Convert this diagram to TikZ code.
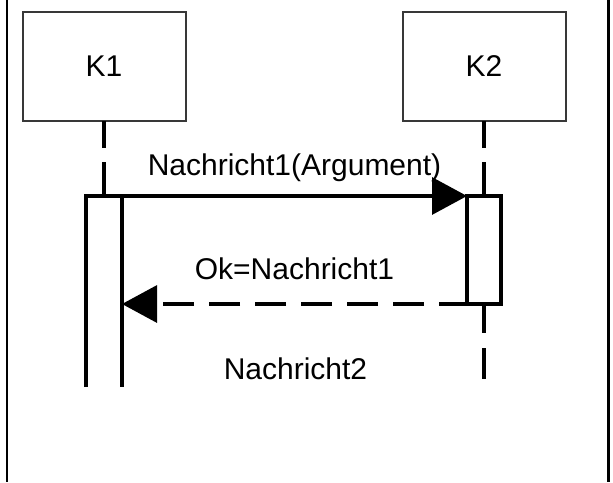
\documentclass[tikz,border=0pt]{standalone}
\usepackage{fontspec}
\setmainfont{Liberation Sans}
\usetikzlibrary{arrows.meta}
\begin{document}
\begin{tikzpicture}[x=1pt,y=-1pt,
  every node/.style={font=\fontsize{30pt}{36pt}\selectfont},
  classbox/.style={draw=black!78, line width=2pt, minimum width=163pt,
    minimum height=109pt, inner sep=0pt, outer sep=0pt},
  actslot/.style={inner sep=0pt, outer sep=0pt},
  actbox/.style={draw, line width=3.2pt, inner sep=0pt, outer sep=0pt},
  lifeline/.style={line width=3.2pt, dash pattern=on 33pt off 14pt},
  msg/.style={line width=3.2pt, -{Triangle[length=35pt,width=37pt]}},
  reply/.style={msg, dash pattern=on 31pt off 15pt, dash phase=3pt},
  frameline/.style={line width=2.2pt}
]
\useasboundingbox (0,0) rectangle (613,482);

% side rules of the frame
\draw[frameline] (6.7,0) -- (6.7,482);
\draw[frameline] (608.5,0) -- (608.5,482);

% participants
\node[classbox] (k1) at (104,66.5) {K1};
\node[classbox] (k2) at (484,66.5) {K2};

% activation bars
\node[actslot, minimum width=36pt, minimum height=191pt] (act1) at (104,291.5) {};
\draw[line width=3.2pt] (act1.south west) -- (act1.north west) -- (act1.north east) -- (act1.south east);
\node[actbox, minimum width=34pt, minimum height=108pt] (act2) at (484,250) {};

% lifelines
\draw[lifeline, dash phase=6pt] (k1.south) -- (act1.north);
\draw[lifeline, dash phase=6pt] (k2.south) -- (act2.north);
\coordinate (k2end) at (484,379);
\draw[lifeline, dash pattern=on 31pt off 15pt, dash phase=2pt] (act2.south) -- (k2end);

% messages
\draw[msg] (act1.north east) -- node[anchor=base, yshift=21pt] (m1) {Nachricht1(Argument)} (act2.north west);
\draw[reply] (act2.south west) -- node[anchor=base, yshift=25pt] (r1) {Ok=Nachricht1} (act1.east |- act2.south west);
\node[anchor=base] (m2) at (295.5,379) {Nachricht2};
\end{tikzpicture}
\end{document}
